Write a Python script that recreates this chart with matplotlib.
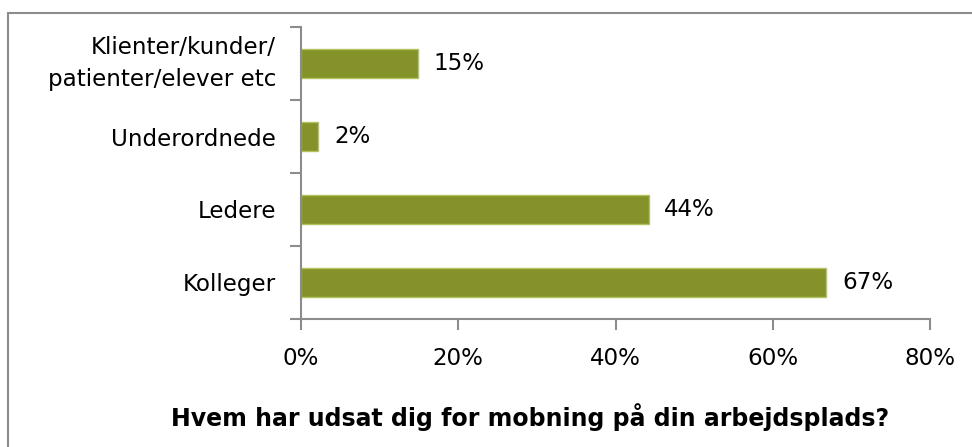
#!/usr/bin/env python3

import matplotlib
matplotlib.use("Agg")
import matplotlib.pyplot as plt
from matplotlib.patches import Rectangle
import numpy as np

# data, bottom to top as drawn
categories = ["Kolleger", "Ledere", "Underordnede", "Klienter/kunder/\npatienter/elever etc"]
values = [66.8, 44.2, 2.2, 14.9]
value_labels = ["67%", "44%", "2%", "15%"]
x_ticks = [0, 20, 40, 60, 80]
x_tick_labels = ["0%", "20%", "40%", "60%", "80%"]
title = "Hvem har udsat dig for mobning på din arbejdsplads?"

W, H = 972, 447
bar_color = "#849229"
bar_edge = "#b3c25c"
axis_color = "#8c8c8c"
font = "DejaVu Sans Condensed"
font_size = 16.6

plt.rcParams["font.family"] = [font, "DejaVu Sans"]

fig = plt.figure(figsize=(W / 100, H / 100), dpi=100)
fig.patch.set_facecolor("white")

# outer chart frame (runs off the right and bottom edges)
fig.add_artist(Rectangle((8 / W, -0.1), 1.1, (H - 13) / H + 0.1,
                         transform=fig.transFigure, fill=False,
                         edgecolor=axis_color, linewidth=1.5))

ax = fig.add_axes([301 / W, (H - 319) / H, (930 - 301) / W, (319 - 27) / H])

y = np.arange(len(categories))
ax.barh(y, values, height=0.4, color=bar_color, edgecolor=bar_edge, linewidth=1)

for yi, v, lab in zip(y, values, value_labels):
    ax.text(v + 2.0, yi, lab, va="center", ha="left", fontsize=font_size)

ax.set_xlim(0, 80)
ax.set_ylim(-0.5, len(categories) - 0.5)

for side in ["top", "right"]:
    ax.spines[side].set_visible(False)
for side in ["left", "bottom"]:
    ax.spines[side].set_color(axis_color)
    ax.spines[side].set_linewidth(1.5)

ax.set_xticks(x_ticks)
ax.set_xticklabels(x_tick_labels, fontsize=font_size)
ax.tick_params(axis="x", direction="out", length=8, width=1.5, color=axis_color, pad=12)

ax.set_yticks(y)
ax.set_yticklabels(categories, fontsize=font_size, linespacing=1.55)
# two-line label: centre the whole block on the bar
for lbl in ax.get_yticklabels():
    if "\n" in lbl.get_text():
        lbl.set_va("center")
ax.set_yticks(np.arange(-0.5, len(categories)), minor=True)
ax.tick_params(axis="y", which="major", length=0, pad=18)
ax.tick_params(axis="y", which="minor", direction="out", length=8, width=1.5, color=axis_color)

fig.text(530 / W, 1 - 417 / H, title, ha="center", va="center",
         fontsize=17, fontweight="bold")

fig.savefig("out.png", dpi=100, facecolor="white")
